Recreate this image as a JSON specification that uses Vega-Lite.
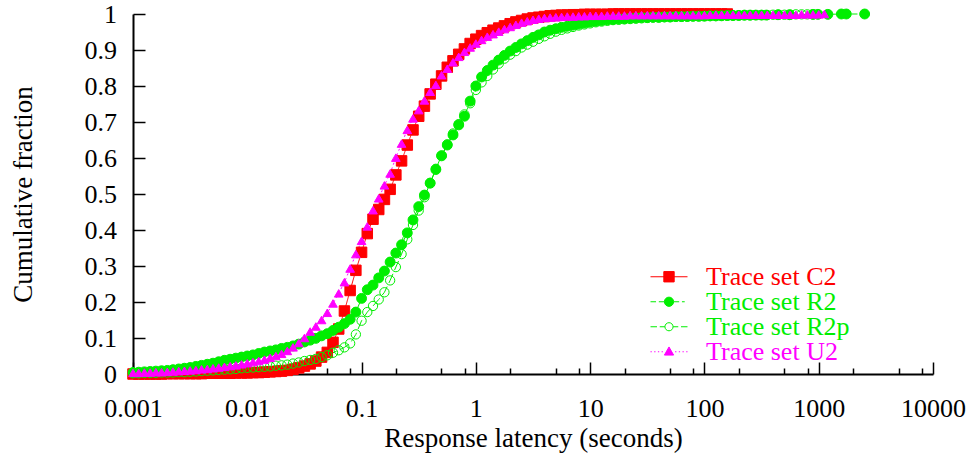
{
"$schema": "https://vega.github.io/schema/vega-lite/v6.json",
"width": 800, "height": 360,
"autosize": "none",
"padding": {"left": 133, "top": 14, "right": 39, "bottom": 84},
"background": "white",
"config": {"view": {"stroke": null},
  "axis": {"labelColor": "black", "titleColor": "black", "tickColor": "black", "domainColor": "black", "grid": false, "titleFontWeight": "normal"}},
"data": {"values": [
{"s":"C2","x":0.001,"y":0},{"s":"C2","x":0.001122,"y":0},{"s":"C2","x":0.001259,"y":0},{"s":"C2","x":0.001413,"y":0},{"s":"C2","x":0.001585,"y":0},{"s":"C2","x":0.001778,"y":0},{"s":"C2","x":0.001995,"y":0.001},{"s":"C2","x":0.002239,"y":0.001},{"s":"C2","x":0.002512,"y":0.001},{"s":"C2","x":0.002818,"y":0.001},{"s":"C2","x":0.003162,"y":0.001},{"s":"C2","x":0.003548,"y":0.001},{"s":"C2","x":0.003981,"y":0.001},{"s":"C2","x":0.004467,"y":0.002},{"s":"C2","x":0.005012,"y":0.002},{"s":"C2","x":0.005623,"y":0.002},{"s":"C2","x":0.00631,"y":0.002},{"s":"C2","x":0.007079,"y":0.002},{"s":"C2","x":0.007943,"y":0.003},{"s":"C2","x":0.008913,"y":0.003},
{"s":"C2","x":0.01,"y":0.003},{"s":"C2","x":0.01122,"y":0.004},{"s":"C2","x":0.01259,"y":0.004},{"s":"C2","x":0.01413,"y":0.005},{"s":"C2","x":0.01585,"y":0.006},{"s":"C2","x":0.01778,"y":0.007},{"s":"C2","x":0.01995,"y":0.008},{"s":"C2","x":0.02239,"y":0.01},{"s":"C2","x":0.02512,"y":0.013},{"s":"C2","x":0.02818,"y":0.017},{"s":"C2","x":0.03162,"y":0.022},{"s":"C2","x":0.03548,"y":0.028},{"s":"C2","x":0.03981,"y":0.036},{"s":"C2","x":0.04467,"y":0.047},{"s":"C2","x":0.05012,"y":0.06},{"s":"C2","x":0.05623,"y":0.088},{"s":"C2","x":0.0631,"y":0.125},{"s":"C2","x":0.07079,"y":0.175},{"s":"C2","x":0.07943,"y":0.232},{"s":"C2","x":0.08913,"y":0.288},
{"s":"C2","x":0.1,"y":0.338},{"s":"C2","x":0.1122,"y":0.39},{"s":"C2","x":0.1259,"y":0.43},{"s":"C2","x":0.1413,"y":0.457},{"s":"C2","x":0.1585,"y":0.485},{"s":"C2","x":0.1778,"y":0.513},{"s":"C2","x":0.1995,"y":0.553},{"s":"C2","x":0.2239,"y":0.592},{"s":"C2","x":0.2512,"y":0.636},{"s":"C2","x":0.2818,"y":0.678},{"s":"C2","x":0.3162,"y":0.716},{"s":"C2","x":0.3548,"y":0.744},{"s":"C2","x":0.3981,"y":0.778},{"s":"C2","x":0.4467,"y":0.805},{"s":"C2","x":0.5012,"y":0.828},{"s":"C2","x":0.5623,"y":0.852},{"s":"C2","x":0.631,"y":0.87},{"s":"C2","x":0.7079,"y":0.888},{"s":"C2","x":0.7943,"y":0.903},{"s":"C2","x":0.8913,"y":0.918},
{"s":"C2","x":1,"y":0.93},{"s":"C2","x":1.122,"y":0.94},{"s":"C2","x":1.259,"y":0.948},{"s":"C2","x":1.413,"y":0.955},{"s":"C2","x":1.585,"y":0.961},{"s":"C2","x":1.778,"y":0.967},{"s":"C2","x":1.995,"y":0.973},{"s":"C2","x":2.239,"y":0.978},{"s":"C2","x":2.512,"y":0.982},{"s":"C2","x":2.818,"y":0.986},{"s":"C2","x":3.162,"y":0.989},{"s":"C2","x":3.548,"y":0.991},{"s":"C2","x":3.981,"y":0.993},{"s":"C2","x":4.467,"y":0.995},{"s":"C2","x":5.012,"y":0.996},{"s":"C2","x":5.623,"y":0.997},{"s":"C2","x":6.31,"y":0.997},{"s":"C2","x":7.079,"y":0.998},{"s":"C2","x":7.943,"y":0.998},{"s":"C2","x":8.913,"y":0.999},
{"s":"C2","x":10,"y":0.999},{"s":"C2","x":11.22,"y":0.999},{"s":"C2","x":12.59,"y":0.999},{"s":"C2","x":14.13,"y":0.999},{"s":"C2","x":15.85,"y":1},{"s":"C2","x":17.78,"y":1},{"s":"C2","x":19.95,"y":1},{"s":"C2","x":22.39,"y":1},{"s":"C2","x":25.12,"y":1},{"s":"C2","x":28.18,"y":1},{"s":"C2","x":31.62,"y":1},{"s":"C2","x":35.48,"y":1},{"s":"C2","x":39.81,"y":1},{"s":"C2","x":44.67,"y":1},{"s":"C2","x":50.12,"y":1},{"s":"C2","x":56.23,"y":1},{"s":"C2","x":63.1,"y":1},{"s":"C2","x":70.79,"y":1},{"s":"C2","x":79.43,"y":1},{"s":"C2","x":89.13,"y":1},
{"s":"C2","x":100,"y":1},{"s":"C2","x":112.2,"y":1},{"s":"C2","x":125.9,"y":1},{"s":"C2","x":141.3,"y":1},{"s":"C2","x":158.5,"y":1},
{"s":"R2","x":0.001,"y":0.004},{"s":"R2","x":0.001122,"y":0.005},{"s":"R2","x":0.001259,"y":0.006},{"s":"R2","x":0.001413,"y":0.007},{"s":"R2","x":0.001585,"y":0.008},{"s":"R2","x":0.001778,"y":0.009},{"s":"R2","x":0.001995,"y":0.01},{"s":"R2","x":0.002239,"y":0.012},{"s":"R2","x":0.002512,"y":0.014},{"s":"R2","x":0.002818,"y":0.016},{"s":"R2","x":0.003162,"y":0.018},{"s":"R2","x":0.003548,"y":0.021},{"s":"R2","x":0.003981,"y":0.024},{"s":"R2","x":0.004467,"y":0.027},{"s":"R2","x":0.005012,"y":0.03},{"s":"R2","x":0.005623,"y":0.034},{"s":"R2","x":0.00631,"y":0.038},{"s":"R2","x":0.007079,"y":0.041},{"s":"R2","x":0.007943,"y":0.044},{"s":"R2","x":0.008913,"y":0.047},
{"s":"R2","x":0.01,"y":0.05},{"s":"R2","x":0.01122,"y":0.053},{"s":"R2","x":0.01259,"y":0.057},{"s":"R2","x":0.01413,"y":0.061},{"s":"R2","x":0.01585,"y":0.064},{"s":"R2","x":0.01778,"y":0.067},{"s":"R2","x":0.01995,"y":0.071},{"s":"R2","x":0.02239,"y":0.074},{"s":"R2","x":0.02512,"y":0.078},{"s":"R2","x":0.02818,"y":0.083},{"s":"R2","x":0.03162,"y":0.089},{"s":"R2","x":0.03548,"y":0.094},{"s":"R2","x":0.03981,"y":0.099},{"s":"R2","x":0.04467,"y":0.106},{"s":"R2","x":0.05012,"y":0.112},{"s":"R2","x":0.05623,"y":0.121},{"s":"R2","x":0.0631,"y":0.13},{"s":"R2","x":0.07079,"y":0.14},{"s":"R2","x":0.07943,"y":0.152},{"s":"R2","x":0.08913,"y":0.172},
{"s":"R2","x":0.1,"y":0.21},{"s":"R2","x":0.1122,"y":0.234},{"s":"R2","x":0.1259,"y":0.247},{"s":"R2","x":0.1413,"y":0.267},{"s":"R2","x":0.1585,"y":0.286},{"s":"R2","x":0.1778,"y":0.311},{"s":"R2","x":0.1995,"y":0.336},{"s":"R2","x":0.2239,"y":0.359},{"s":"R2","x":0.2512,"y":0.392},{"s":"R2","x":0.2818,"y":0.428},{"s":"R2","x":0.3162,"y":0.465},{"s":"R2","x":0.3548,"y":0.497},{"s":"R2","x":0.3981,"y":0.53},{"s":"R2","x":0.4467,"y":0.568},{"s":"R2","x":0.5012,"y":0.606},{"s":"R2","x":0.5623,"y":0.636},{"s":"R2","x":0.631,"y":0.664},{"s":"R2","x":0.7079,"y":0.692},{"s":"R2","x":0.7943,"y":0.716},{"s":"R2","x":0.8913,"y":0.758},
{"s":"R2","x":1,"y":0.8},{"s":"R2","x":1.122,"y":0.825},{"s":"R2","x":1.259,"y":0.843},{"s":"R2","x":1.413,"y":0.858},{"s":"R2","x":1.585,"y":0.872},{"s":"R2","x":1.778,"y":0.885},{"s":"R2","x":1.995,"y":0.897},{"s":"R2","x":2.239,"y":0.907},{"s":"R2","x":2.512,"y":0.917},{"s":"R2","x":2.818,"y":0.926},{"s":"R2","x":3.162,"y":0.935},{"s":"R2","x":3.548,"y":0.942},{"s":"R2","x":3.981,"y":0.95},{"s":"R2","x":4.467,"y":0.955},{"s":"R2","x":5.012,"y":0.959},{"s":"R2","x":5.623,"y":0.963},{"s":"R2","x":6.31,"y":0.966},{"s":"R2","x":7.079,"y":0.969},{"s":"R2","x":7.943,"y":0.972},{"s":"R2","x":8.913,"y":0.975},
{"s":"R2","x":10,"y":0.978},{"s":"R2","x":11.22,"y":0.98},{"s":"R2","x":12.59,"y":0.982},{"s":"R2","x":14.13,"y":0.984},{"s":"R2","x":15.85,"y":0.985},{"s":"R2","x":17.78,"y":0.986},{"s":"R2","x":19.95,"y":0.987},{"s":"R2","x":22.39,"y":0.988},{"s":"R2","x":25.12,"y":0.989},{"s":"R2","x":28.18,"y":0.99},{"s":"R2","x":31.62,"y":0.99},{"s":"R2","x":35.48,"y":0.991},{"s":"R2","x":39.81,"y":0.991},{"s":"R2","x":44.67,"y":0.992},{"s":"R2","x":50.12,"y":0.992},{"s":"R2","x":56.23,"y":0.993},{"s":"R2","x":63.1,"y":0.993},{"s":"R2","x":70.79,"y":0.993},{"s":"R2","x":79.43,"y":0.994},{"s":"R2","x":89.13,"y":0.994},
{"s":"R2","x":100,"y":0.994},{"s":"R2","x":112.2,"y":0.995},{"s":"R2","x":125.9,"y":0.995},{"s":"R2","x":141.3,"y":0.995},{"s":"R2","x":158.5,"y":0.996},{"s":"R2","x":177.8,"y":0.996},{"s":"R2","x":199.5,"y":0.996},{"s":"R2","x":223.9,"y":0.997},{"s":"R2","x":251.2,"y":0.997},{"s":"R2","x":281.8,"y":0.997},{"s":"R2","x":316.2,"y":0.997},{"s":"R2","x":348,"y":0.997},{"s":"R2","x":440,"y":0.998},{"s":"R2","x":556,"y":0.998},{"s":"R2","x":891,"y":0.999},{"s":"R2","x":985,"y":0.999},{"s":"R2","x":1203,"y":0.999},{"s":"R2","x":1578,"y":1},{"s":"R2","x":1743,"y":1},{"s":"R2","x":2523,"y":1},
{"s":"R2p","x":0.001,"y":0.002},{"s":"R2p","x":0.001122,"y":0.002},{"s":"R2p","x":0.001259,"y":0.003},{"s":"R2p","x":0.001413,"y":0.003},{"s":"R2p","x":0.001585,"y":0.003},{"s":"R2p","x":0.001778,"y":0.004},{"s":"R2p","x":0.001995,"y":0.004},{"s":"R2p","x":0.002239,"y":0.004},{"s":"R2p","x":0.002512,"y":0.005},{"s":"R2p","x":0.002818,"y":0.005},{"s":"R2p","x":0.003162,"y":0.006},{"s":"R2p","x":0.003548,"y":0.007},{"s":"R2p","x":0.003981,"y":0.008},{"s":"R2p","x":0.004467,"y":0.009},{"s":"R2p","x":0.005012,"y":0.01},{"s":"R2p","x":0.005623,"y":0.011},{"s":"R2p","x":0.00631,"y":0.012},{"s":"R2p","x":0.007079,"y":0.013},{"s":"R2p","x":0.007943,"y":0.014},{"s":"R2p","x":0.008913,"y":0.016},
{"s":"R2p","x":0.01,"y":0.017},{"s":"R2p","x":0.01122,"y":0.018},{"s":"R2p","x":0.01259,"y":0.019},{"s":"R2p","x":0.01413,"y":0.02},{"s":"R2p","x":0.01585,"y":0.021},{"s":"R2p","x":0.01778,"y":0.023},{"s":"R2p","x":0.01995,"y":0.024},{"s":"R2p","x":0.02239,"y":0.026},{"s":"R2p","x":0.02512,"y":0.029},{"s":"R2p","x":0.02818,"y":0.032},{"s":"R2p","x":0.03162,"y":0.036},{"s":"R2p","x":0.03548,"y":0.039},{"s":"R2p","x":0.03981,"y":0.042},{"s":"R2p","x":0.04467,"y":0.047},{"s":"R2p","x":0.05012,"y":0.052},{"s":"R2p","x":0.05623,"y":0.059},{"s":"R2p","x":0.0631,"y":0.066},{"s":"R2p","x":0.07079,"y":0.074},{"s":"R2p","x":0.07943,"y":0.085},{"s":"R2p","x":0.08913,"y":0.11},
{"s":"R2p","x":0.1,"y":0.148},{"s":"R2p","x":0.1122,"y":0.172},{"s":"R2p","x":0.1259,"y":0.189},{"s":"R2p","x":0.1413,"y":0.207},{"s":"R2p","x":0.1585,"y":0.227},{"s":"R2p","x":0.1778,"y":0.26},{"s":"R2p","x":0.1995,"y":0.297},{"s":"R2p","x":0.2239,"y":0.333},{"s":"R2p","x":0.2512,"y":0.374},{"s":"R2p","x":0.2818,"y":0.414},{"s":"R2p","x":0.3162,"y":0.454},{"s":"R2p","x":0.3548,"y":0.491},{"s":"R2p","x":0.3981,"y":0.531},{"s":"R2p","x":0.4467,"y":0.57},{"s":"R2p","x":0.5012,"y":0.607},{"s":"R2p","x":0.5623,"y":0.638},{"s":"R2p","x":0.631,"y":0.668},{"s":"R2p","x":0.7079,"y":0.694},{"s":"R2p","x":0.7943,"y":0.721},{"s":"R2p","x":0.8913,"y":0.752},
{"s":"R2p","x":1,"y":0.789},{"s":"R2p","x":1.122,"y":0.81},{"s":"R2p","x":1.259,"y":0.828},{"s":"R2p","x":1.413,"y":0.846},{"s":"R2p","x":1.585,"y":0.862},{"s":"R2p","x":1.778,"y":0.876},{"s":"R2p","x":1.995,"y":0.887},{"s":"R2p","x":2.239,"y":0.897},{"s":"R2p","x":2.512,"y":0.907},{"s":"R2p","x":2.818,"y":0.915},{"s":"R2p","x":3.162,"y":0.923},{"s":"R2p","x":3.548,"y":0.931},{"s":"R2p","x":3.981,"y":0.938},{"s":"R2p","x":4.467,"y":0.945},{"s":"R2p","x":5.012,"y":0.951},{"s":"R2p","x":5.623,"y":0.956},{"s":"R2p","x":6.31,"y":0.96},{"s":"R2p","x":7.079,"y":0.964},{"s":"R2p","x":7.943,"y":0.968},{"s":"R2p","x":8.913,"y":0.971},
{"s":"R2p","x":10,"y":0.974},{"s":"R2p","x":11.22,"y":0.977},{"s":"R2p","x":12.59,"y":0.979},{"s":"R2p","x":14.13,"y":0.981},{"s":"R2p","x":15.85,"y":0.983},{"s":"R2p","x":17.78,"y":0.984},{"s":"R2p","x":19.95,"y":0.985},{"s":"R2p","x":22.39,"y":0.986},{"s":"R2p","x":25.12,"y":0.987},{"s":"R2p","x":28.18,"y":0.988},{"s":"R2p","x":31.62,"y":0.989},{"s":"R2p","x":35.48,"y":0.99},{"s":"R2p","x":39.81,"y":0.99},{"s":"R2p","x":44.67,"y":0.991},{"s":"R2p","x":50.12,"y":0.991},{"s":"R2p","x":56.23,"y":0.992},{"s":"R2p","x":63.1,"y":0.992},{"s":"R2p","x":70.79,"y":0.993},{"s":"R2p","x":79.43,"y":0.993},{"s":"R2p","x":89.13,"y":0.993},
{"s":"R2p","x":100,"y":0.994},{"s":"R2p","x":112.2,"y":0.994},{"s":"R2p","x":125.9,"y":0.994},{"s":"R2p","x":141.3,"y":0.995},{"s":"R2p","x":158.5,"y":0.995},{"s":"R2p","x":177.8,"y":0.995},{"s":"R2p","x":199.5,"y":0.996},{"s":"R2p","x":223.9,"y":0.996},{"s":"R2p","x":251.2,"y":0.996},{"s":"R2p","x":281.8,"y":0.997},{"s":"R2p","x":316.2,"y":0.997},{"s":"R2p","x":354.8,"y":0.997},{"s":"R2p","x":398.1,"y":0.998},{"s":"R2p","x":446.7,"y":0.998},{"s":"R2p","x":501.2,"y":0.998},{"s":"R2p","x":562.3,"y":0.998},{"s":"R2p","x":631,"y":0.999},{"s":"R2p","x":707.9,"y":0.999},{"s":"R2p","x":794.3,"y":0.999},{"s":"R2p","x":891.3,"y":0.999},
{"s":"U2","x":0.001,"y":0.003},{"s":"U2","x":0.001122,"y":0.003},{"s":"U2","x":0.001259,"y":0.004},{"s":"U2","x":0.001413,"y":0.004},{"s":"U2","x":0.001585,"y":0.005},{"s":"U2","x":0.001778,"y":0.005},{"s":"U2","x":0.001995,"y":0.006},{"s":"U2","x":0.002239,"y":0.007},{"s":"U2","x":0.002512,"y":0.008},{"s":"U2","x":0.002818,"y":0.009},{"s":"U2","x":0.003162,"y":0.01},{"s":"U2","x":0.003548,"y":0.011},{"s":"U2","x":0.003981,"y":0.013},{"s":"U2","x":0.004467,"y":0.014},{"s":"U2","x":0.005012,"y":0.016},{"s":"U2","x":0.005623,"y":0.018},{"s":"U2","x":0.00631,"y":0.02},{"s":"U2","x":0.007079,"y":0.022},{"s":"U2","x":0.007943,"y":0.024},{"s":"U2","x":0.008913,"y":0.027},
{"s":"U2","x":0.01,"y":0.03},{"s":"U2","x":0.01122,"y":0.033},{"s":"U2","x":0.01259,"y":0.036},{"s":"U2","x":0.01413,"y":0.04},{"s":"U2","x":0.01585,"y":0.045},{"s":"U2","x":0.01778,"y":0.05},{"s":"U2","x":0.01995,"y":0.056},{"s":"U2","x":0.02239,"y":0.064},{"s":"U2","x":0.02512,"y":0.074},{"s":"U2","x":0.02818,"y":0.086},{"s":"U2","x":0.03162,"y":0.1},{"s":"U2","x":0.03548,"y":0.118},{"s":"U2","x":0.03981,"y":0.132},{"s":"U2","x":0.04467,"y":0.15},{"s":"U2","x":0.05012,"y":0.17},{"s":"U2","x":0.05623,"y":0.196},{"s":"U2","x":0.0631,"y":0.224},{"s":"U2","x":0.07079,"y":0.255},{"s":"U2","x":0.07943,"y":0.293},{"s":"U2","x":0.08913,"y":0.333},
{"s":"U2","x":0.1,"y":0.37},{"s":"U2","x":0.1122,"y":0.41},{"s":"U2","x":0.1259,"y":0.455},{"s":"U2","x":0.1413,"y":0.488},{"s":"U2","x":0.1585,"y":0.524},{"s":"U2","x":0.1778,"y":0.557},{"s":"U2","x":0.1995,"y":0.601},{"s":"U2","x":0.2239,"y":0.64},{"s":"U2","x":0.2512,"y":0.678},{"s":"U2","x":0.2818,"y":0.71},{"s":"U2","x":0.3162,"y":0.733},{"s":"U2","x":0.3548,"y":0.76},{"s":"U2","x":0.3981,"y":0.784},{"s":"U2","x":0.4467,"y":0.803},{"s":"U2","x":0.5012,"y":0.83},{"s":"U2","x":0.5623,"y":0.848},{"s":"U2","x":0.631,"y":0.866},{"s":"U2","x":0.7079,"y":0.881},{"s":"U2","x":0.7943,"y":0.895},{"s":"U2","x":0.8913,"y":0.907},
{"s":"U2","x":1,"y":0.918},{"s":"U2","x":1.122,"y":0.928},{"s":"U2","x":1.259,"y":0.937},{"s":"U2","x":1.413,"y":0.944},{"s":"U2","x":1.585,"y":0.951},{"s":"U2","x":1.778,"y":0.958},{"s":"U2","x":1.995,"y":0.964},{"s":"U2","x":2.239,"y":0.97},{"s":"U2","x":2.512,"y":0.976},{"s":"U2","x":2.818,"y":0.98},{"s":"U2","x":3.162,"y":0.984},{"s":"U2","x":3.548,"y":0.987},{"s":"U2","x":3.981,"y":0.989},{"s":"U2","x":4.467,"y":0.99},{"s":"U2","x":5.012,"y":0.991},{"s":"U2","x":5.623,"y":0.992},{"s":"U2","x":6.31,"y":0.993},{"s":"U2","x":7.079,"y":0.993},{"s":"U2","x":7.943,"y":0.994},{"s":"U2","x":8.913,"y":0.994},
{"s":"U2","x":10,"y":0.995},{"s":"U2","x":11.22,"y":0.995},{"s":"U2","x":12.59,"y":0.995},{"s":"U2","x":14.13,"y":0.996},{"s":"U2","x":15.85,"y":0.996},{"s":"U2","x":17.78,"y":0.996},{"s":"U2","x":19.95,"y":0.996},{"s":"U2","x":22.39,"y":0.997},{"s":"U2","x":25.12,"y":0.997},{"s":"U2","x":28.18,"y":0.997},{"s":"U2","x":31.62,"y":0.997},{"s":"U2","x":35.48,"y":0.997},{"s":"U2","x":39.81,"y":0.997},{"s":"U2","x":44.67,"y":0.997},{"s":"U2","x":50.12,"y":0.997},{"s":"U2","x":56.23,"y":0.997},{"s":"U2","x":63.1,"y":0.997},{"s":"U2","x":70.79,"y":0.997},{"s":"U2","x":79.43,"y":0.997},{"s":"U2","x":89.13,"y":0.997},
{"s":"U2","x":100,"y":0.997},{"s":"U2","x":112.2,"y":0.998},{"s":"U2","x":125.9,"y":0.998},{"s":"U2","x":141.3,"y":0.998},{"s":"U2","x":158.5,"y":0.998},{"s":"U2","x":177.8,"y":0.998},{"s":"U2","x":199.5,"y":0.998},{"s":"U2","x":223.9,"y":0.998},{"s":"U2","x":251.2,"y":0.998},{"s":"U2","x":281.8,"y":0.998},{"s":"U2","x":316.2,"y":0.998},{"s":"U2","x":354.8,"y":0.998},{"s":"U2","x":398.1,"y":0.998},{"s":"U2","x":446.7,"y":0.998},{"s":"U2","x":501.2,"y":0.998},{"s":"U2","x":562.3,"y":0.998},{"s":"U2","x":631,"y":0.998},{"s":"U2","x":707.9,"y":0.999},{"s":"U2","x":794.3,"y":0.999},{"s":"U2","x":891.3,"y":0.999},
{"s":"U2","x":1000,"y":0.999},{"s":"U2","x":1122,"y":1}
]},
"layer": [
{"mark": {"type": "line", "strokeWidth": 1},
 "encoding": {
  "x": {"field": "x", "type": "quantitative",
    "scale": {"type": "log", "domain": [0.001, 10000], "nice": false},
    "axis": {"orient": "bottom", "values": [0.001, 0.01, 0.1, 1, 10, 100, 1000, 10000], "format": "~g", "tickSize": -12, "tickWidth": 1.5, "domainWidth": 2, "labelFont": "Liberation Serif", "labelFontSize": 26, "labelPadding": 46, "labelBaseline": "middle", "labelFlush": false, "labelOverlap": false, "title": "Response latency (seconds)", "titleFont": "Liberation Serif", "titleFontSize": 27, "titleY": 64, "titleBaseline": "middle"}},
  "y": {"field": "y", "type": "quantitative",
    "scale": {"domain": [0, 1], "nice": false, "zero": false},
    "axis": {"orient": "left", "values": [0, 0.1, 0.2, 0.3, 0.4, 0.5, 0.6, 0.7, 0.8, 0.9, 1], "format": "~g", "tickSize": -12, "tickWidth": 1.5, "domainWidth": 2, "labelFont": "Liberation Serif", "labelFontSize": 26, "labelPadding": 28.6, "labelOverlap": false, "title": "Cumulative fraction", "titleFont": "Liberation Serif", "titleFontSize": 27, "titleX": -110, "titleBaseline": "middle"}},
  "stroke": {"field": "s", "type": "nominal",
    "scale": {"domain": ["C2", "R2", "R2p", "U2"], "range": ["#ff0000", "#00ee00", "#00ee00", "#ff00ff"]},
    "legend": {"title": null, "orient": "none", "legendX": 517, "legendY": 251, "padding": 0,
      "symbolSize": 1369, "symbolStrokeWidth": 1, "labelFont": "Liberation Serif", "labelFontSize": 26,
      "labelOffset": 18, "rowPadding": -4, "clipHeight": 23.5, "labelLimit": 0,
      "labelExpr": "'Trace set ' + datum.label",
      "labelColor": {"expr": "scale('stroke', datum.value)"},
      "symbolFillColor": {"expr": "scale('fill', datum.value)"},
      "symbolType": {"expr": "datum.value === 'C2' ? 'M-1,0H1M-0.28,-0.28H0.28V0.28H-0.28Z' : datum.value === 'R2' ? 'M-1,0H-0.7M-0.55,0H-0.25M0.25,0H0.55M0.7,0H0.85M0.25,0A0.25,0.25,0,1,1,-0.25,0A0.25,0.25,0,1,1,0.25,0Z' : datum.value === 'R2p' ? 'M-1,0H-0.65M-0.5,0H-0.22M0.22,0H0.5M0.65,0H1M0.22,0A0.22,0.22,0,1,1,-0.22,0A0.22,0.22,0,1,1,0.22,0Z' : 'M-1,0H-0.93M-0.8,0H-0.73M-0.6,0H-0.53M-0.4,0H-0.33M0.33,0H0.4M0.53,0H0.6M0.73,0H0.8M0.93,0H1M0,-0.26L0.25,0.18L-0.25,0.18Z'"}
    }},
  "strokeDash": {"field": "s", "type": "nominal",
    "scale": {"range": [[1, 0], [6, 4], [10, 4], [2, 3]]}, "legend": null}
 }},
{"mark": {"type": "point", "strokeWidth": 1, "opacity": 1},
 "encoding": {
  "x": {"field": "x", "type": "quantitative",
    "axis": {"orient": "bottom", "values": [0.002, 0.005, 0.008, 0.02, 0.05, 0.08, 0.2, 0.5, 0.8, 2, 5, 8, 20, 50, 80, 200, 500, 800, 2000, 5000, 8000], "tickSize": -6, "tickWidth": 1.5, "labels": false, "domain": false, "title": null}},
  "y": {"field": "y", "type": "quantitative", "axis": null},
  "shape": {"field": "s", "type": "nominal",
    "scale": {"range": ["square", "circle", "circle", "triangle-up"]}, "legend": null},
  "fill": {"field": "s", "type": "nominal",
    "scale": {"range": ["#ff0000", "#00ee00", "transparent", "#ff00ff"]}, "legend": null},
  "size": {"field": "s", "type": "nominal",
    "scale": {"range": [110, 75, 64, 85]}, "legend": null},
  "stroke": {"field": "s", "type": "nominal", "legend": null}
 }}
],
"resolve": {"axis": {"x": "independent", "y": "independent"}}
}
